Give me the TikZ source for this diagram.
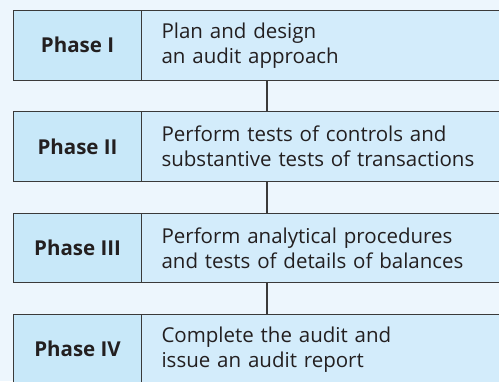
\documentclass[tikz,border=0pt]{standalone}
\usepackage{fontspec}
\setmainfont{Open Sans}
\definecolor{bgcol}{HTML}{EDF6FD}
\definecolor{leftcol}{HTML}{C8E8F9}
\definecolor{rightcol}{HTML}{D3ECFB}
\definecolor{bordercol}{HTML}{3A3A3A}
\definecolor{textcol}{HTML}{231F20}
\begin{document}
\begin{tikzpicture}[x=1pt,y=-1pt,
  phasebox/.style={draw=bordercol, fill=leftcol, line width=1.1pt, minimum width=128pt, minimum height=69.5pt, anchor=north west, inner sep=0pt, text=textcol, font=\bfseries\fontsize{20.5}{24}\selectfont},
  descbox/.style={draw=bordercol, fill=rightcol, line width=1.1pt, minimum height=69.5pt, anchor=north west, inner xsep=20pt, inner ysep=0pt, text width=330pt, align=left, text=textcol, font=\fontsize{20.5}{25}\selectfont},
  link/.style={draw=bordercol, line width=1.6pt}]
\fill[bgcol] (0,0) rectangle (499,381);
\useasboundingbox (0,0) rectangle (499,381);
\begin{scope}
\clip (0,0) rectangle (499,381);
\coordinate (cx) at (267,0);
\node[phasebox] (p1) at (13,10) {Phase I};
\node[descbox] (d1) at (141,10) {Plan and design\\an audit approach};
\node[phasebox] (p2) at (13,111.3) {Phase II};
\node[descbox] (d2) at (141,111.3) {Perform tests of controls and\\substantive tests of transactions};
\node[phasebox] (p3) at (13,212.6) {Phase III};
\node[descbox] (d3) at (141,212.6) {Perform analytical procedures\\and tests of details of balances};
\node[phasebox] (p4) at (13,314) {Phase IV};
\node[descbox] (d4) at (141,314) {Complete the audit and\\issue an audit report};
\draw[link] (d1.south -| cx) -- (d2.north -| cx);
\draw[link] (d2.south -| cx) -- (d3.north -| cx);
\draw[link] (d3.south -| cx) -- (d4.north -| cx);
\end{scope}
\end{tikzpicture}
\end{document}
